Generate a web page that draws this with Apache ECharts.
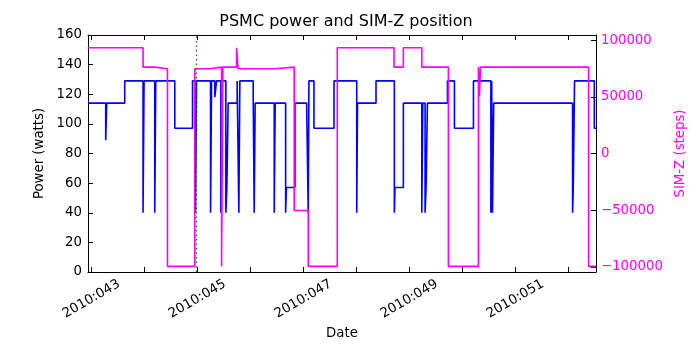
<!DOCTYPE html>
<html>
<head>
<meta charset="utf-8">
<script src="https://cdn.jsdelivr.net/npm/echarts@6/dist/echarts.min.js"></script>
<style>
html,body{margin:0;padding:0;background:#fff;}
#chart{width:700px;height:350px;}
</style>
</head>
<body>
<div id="chart"></div>
<script>
// Day-of-year 2010 (fractional) and PSMC power in watts (post-step values)
const powerDays = [42.936,43.270,43.289,43.629,43.975,43.994,44.196,44.215,44.574,44.909,44.965,44.984,45.249,45.268,45.330,45.362,45.443,45.462,45.538,45.557,45.581,45.751,45.783,45.802,46.054,46.073,46.091,46.451,46.469,46.666,46.681,46.842,47.063,47.093,47.106,47.201,47.579,48.008,48.023,48.372,48.718,48.730,48.888,49.236,49.255,49.298,49.317,49.342,49.720,49.852,50.211,50.540,50.555,50.570,50.593,52.082,52.095,52.119,52.492,52.524];
const powerWatts = [114,89,114,129,40,129,40,129,97,129,40,129,40,129,118,129,40,129,40,57,114,129,40,129,118,40,114,40,114,40,57,114,112,40,129,97,129,40,114,129,40,57,114,40,114,40,57,114,129,97,129,40,129,40,114,40,57,129,97,97];

// Day-of-year 2010 and SIM-Z position in steps (post-step values)
const simzDays = [42.936,43.975,44.196,44.436,44.952,45.235,45.457,45.481,45.740,45.768,46.464,46.828,47.093,47.641,48.712,48.888,49.236,49.738,50.305,50.324,50.343,52.384,52.524];
const simzSteps = [93300,76200,74800,-99500,74800,76200,-99500,76200,93300,74800,76200,-50300,-99500,93300,76200,93300,76200,-99500,76200,50600,76200,-99500,-99500];

// Marker (dotted vertical line) time
const markerDay = 44.975;

// Axis ranges and ticks
const xMin = 42.936, xMax = 52.524;
const xTickDays = [43,44,45,46,47,48,49,50,51,52];
const xLabelDays = [43,45,47,49,51];
const powerMin = 0, powerMax = 160, powerStep = 20;
const simzMin = -104500, simzMax = 104500;
const simzTicks = [-100000,-50000,0,50000,100000];

const FONT = 'DejaVu Sans';
const powerData = powerDays.map((d,i)=>[d, powerWatts[i]]);
const simzData = simzDays.map((d,i)=>[d, simzSteps[i]]);

const chart = echarts.init(document.getElementById('chart'), null, {renderer:'canvas'});
const axisLineStyle = {color:'#000', width:1};
chart.setOption({
  animation:false,
  backgroundColor:'#fff',
  textStyle:{fontFamily:FONT},
  title:{
    text:'PSMC power and SIM-Z position',
    left:341, top:9, textAlign:'center',
    textStyle:{fontFamily:FONT, fontSize:16, fontWeight:'normal', color:'#000'}
  },
  grid:{left:88, right:104, top:35, bottom:78, containLabel:false},
  xAxis:[{
    type:'value', position:'bottom', min:xMin, max:xMax,
    name:'Date', nameLocation:'middle', nameGap:52,
    nameTextStyle:{fontFamily:FONT, fontSize:13.3, color:'#000'},
    axisLine:{show:true, onZero:false, lineStyle:axisLineStyle},
    axisTick:{show:true, inside:true, length:5, customValues:xTickDays, lineStyle:{color:'#000'}},
    axisLabel:{show:true, customValues:xLabelDays, rotate:30, align:'center', verticalAlign:'middle', margin:27,
      fontFamily:FONT, fontSize:13.3, color:'#000',
      formatter:(v)=>'2010:' + String(Math.round(v)).padStart(3,'0')},
    splitLine:{show:false}
  },{
    type:'value', position:'top', min:xMin, max:xMax,
    axisLine:{show:true, onZero:false, lineStyle:axisLineStyle},
    axisTick:{show:true, inside:true, length:5, customValues:xTickDays, lineStyle:{color:'#000'}},
    axisLabel:{show:false},
    splitLine:{show:false}
  }],
  yAxis:[{
    type:'value', position:'left', min:powerMin, max:powerMax, interval:powerStep,
    name:'Power (watts)', nameLocation:'middle', nameGap:35, nameRotate:90,
    nameTextStyle:{fontFamily:FONT, fontSize:13.3, color:'#000'},
    axisLine:{show:true, onZero:false, lineStyle:axisLineStyle},
    axisTick:{show:true, inside:true, length:5, lineStyle:{color:'#000'}},
    axisLabel:{margin:6, fontFamily:FONT, fontSize:13.3, color:'#000'},
    splitLine:{show:false}
  },{
    type:'value', position:'right', min:simzMin, max:simzMax,
    name:'SIM-Z (steps)', nameLocation:'middle', nameGap:60, nameRotate:90,
    nameTextStyle:{fontFamily:FONT, fontSize:13.3, color:'#ff00ff'},
    axisLine:{show:true, onZero:false, lineStyle:axisLineStyle},
    axisTick:{show:true, inside:true, length:5, customValues:simzTicks, lineStyle:{color:'#000'}},
    axisLabel:{margin:5, customValues:simzTicks, fontFamily:FONT, fontSize:13.3, color:'#ff00ff',
      formatter:(v)=>String(v).replace('-', '\u2212')},
    splitLine:{show:false}
  }],
  series:[{
    name:'Power', type:'line', xAxisIndex:0, yAxisIndex:0, step:'end',
    data:powerData, showSymbol:false, symbol:'none',
    lineStyle:{color:'#0000ff', width:1.6}, itemStyle:{color:'#0000ff'}, z:2,
    markLine:{silent:true, symbol:'none', label:{show:false},
      lineStyle:{color:'#008000', type:[1.5,3], width:1.3},
      data:[{xAxis:markerDay}]}
  },{
    name:'SIM-Z', type:'line', xAxisIndex:0, yAxisIndex:1, step:'end',
    data:simzData, showSymbol:false, symbol:'none',
    lineStyle:{color:'#ff00ff', width:1.6}, itemStyle:{color:'#ff00ff'}, z:3
  }]
});
</script>
</body>
</html>
